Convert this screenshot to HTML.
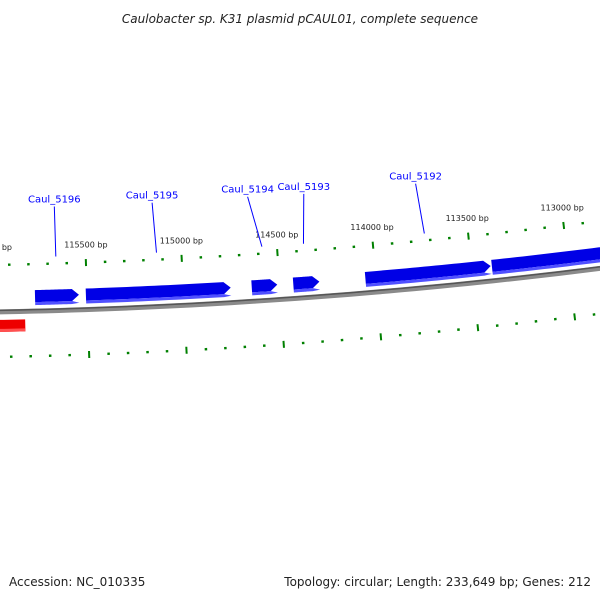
<!DOCTYPE html>
<html><head><meta charset="utf-8"><style>
body{margin:0;background:#fff;}
svg{display:block;font-family:"DejaVu Sans","Liberation Sans",sans-serif;}
</style></head><body>
<svg id="c" width="600" height="600" viewBox="0 0 600 600">
<text x="300" y="23" text-anchor="middle" font-size="12" font-style="italic" fill="#222">Caulobacter sp. K31 plasmid pCAUL01, complete sequence</text>
<text x="9" y="586" font-size="12" fill="#222">Accession: NC_010335</text>
<text x="591" y="586" font-size="12" fill="#222" text-anchor="end">Topology: circular; Length: 233,649 bp; Genes: 212</text>
<g id="layer"></g>
</svg>
<script>
const geneNames = ["Caul_5196","Caul_5195","Caul_5194","Caul_5193","Caul_5192",""];
const geneStarts = [115770,115506,114645,114429,114054,113395];
const geneEnds = [115542,114754,114512,114293,113401,112700];
const labelShift = [0,-2,-11,4,-4,0];
const revGeneStarts = [116100];
const revGeneEnds = [115824];
const tickMin = 112600, tickMax = 116300, minorStep = 100, majorStep = 500;

const NS="http://www.w3.org/2000/svg";
const L=document.getElementById('layer');
const CX=-112, CY=-5390, R=5703, B0=115500, PHI0=0.0350, K=3.39e-5;
function ang(bp){return PHI0+(B0-bp)*K;}
function pt(bp,r){const a=ang(bp);return [CX+r*Math.sin(a),CY+r*Math.cos(a)];}
function mk(tag,attrs){const e=document.createElementNS(NS,tag);for(const k in attrs)e.setAttribute(k,attrs[k]);L.appendChild(e);return e;}
function arcPts(b1,b2,r,n){const p=[];for(let i=0;i<=n;i++){const b=b1+(b2-b1)*i/n;p.push(pt(b,r));}return p;}
function ps(p){return p.map(q=>q[0].toFixed(2)+','+q[1].toFixed(2)).join(' ');}

// backbone
let bb=arcPts(116400,112300,R,60);
let e=mk('polyline',{points:ps(bb),fill:'none',stroke:'#8a8a8a','stroke-width':5});


e=mk('polyline',{points:ps(arcPts(116400,112300,R-1.5,60)),fill:'none',stroke:'#555','stroke-width':1.5});



// ticks
for(let b=tickMin;b<=tickMax;b+=minorStep){
  const major=(b%majorStep===0);
  [R-47,R+45].forEach((r,ri)=>{
    const h=major?3.5:1.2;
    const p1=pt(b,r-h),p2=pt(b,r+h);
    const t=mk('line',{x1:p1[0],y1:p1[1],x2:p2[0],y2:p2[1],stroke:'#008000','stroke-width':major?2:2.5});
    
    
  });
  if(major){
    const p=pt(b,R-65);
    const tx=mk('text',{x:p[0]-21,y:p[1]+3,'font-size':8,fill:'#222'});
    tx.textContent=b+' bp';
    
    
  }
}

function gene(s,en,rIn,rOut,fill,light,name){
  const dir=en<s?1:-1;
  const len=Math.abs(en-s);
  const head=Math.min(7/ (R*K),len*0.6);
  const bodyEnd=en+dir*head;
  const mid=(rIn+rOut)/2;
  const outer=arcPts(s,bodyEnd,rOut,20), inner=arcPts(bodyEnd,s,rIn,20);
  const tip=pt(en,mid);
  const g=mk('polygon',{points:ps([...outer,tip,...inner]),fill:fill});
  
  
  const lo=arcPts(s,bodyEnd,rIn+3,20), li=arcPts(bodyEnd,s,rIn,20);
  const tip2=pt(en-dir*1,rIn+2);
  const s2=mk('polygon',{points:ps([...lo,tip2,...li]),fill:light});
  
  
}
for(let i=0;i<geneStarts.length;i++){
  gene(geneStarts[i],geneEnds[i],R-9,R-21,'#0000e6','#5050ff','gene-'+(geneNames[i]||'unnamed-'+i));
  if(geneNames[i]){
    const m=(geneStarts[i]+geneEnds[i])/2;
    const p2=pt(m,R-54), p1=pt(m,R-104);
    const ln=mk('line',{x1:p1[0]+labelShift[i],y1:p1[1],x2:p2[0],y2:p2[1],stroke:'#0000ff','stroke-width':1});
    
    
    const tx=mk('text',{x:p1[0]+labelShift[i],y:p1[1]-4,'font-size':10,fill:'#0000ff','text-anchor':'middle'});
    tx.textContent=geneNames[i];
    
    
  }
}
for(let i=0;i<revGeneStarts.length;i++){
  const o=arcPts(revGeneStarts[i],revGeneEnds[i],R+8,10), n=arcPts(revGeneEnds[i],revGeneStarts[i],R+20,10);
  const g=mk('polygon',{points:ps([...o,...n]),fill:'#ee0000'});
  
  
  const o2=arcPts(revGeneStarts[i],revGeneEnds[i],R+17,10);
  const g2=mk('polygon',{points:ps([...o2,...n]),fill:'#ff5050'});
  
  
}
</script>
</body></html>
